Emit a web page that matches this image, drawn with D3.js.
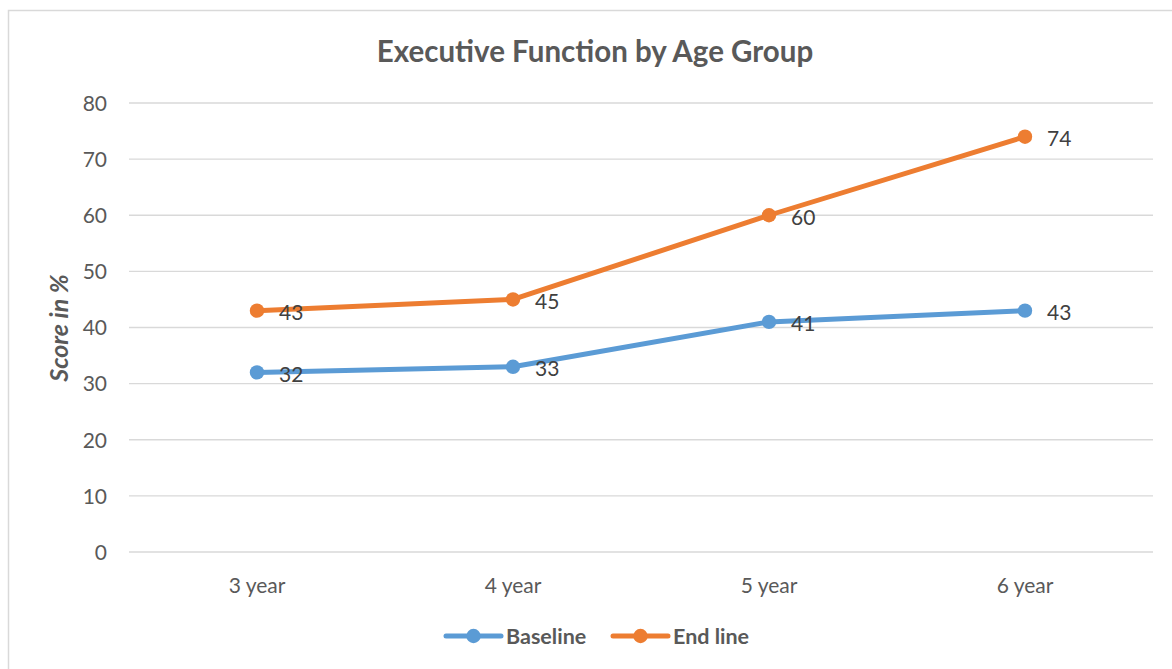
<!DOCTYPE html>
<html>
<head>
<meta charset="utf-8">
<script src="https://cdn.jsdelivr.net/npm/d3@7"></script>
<style>
  body { margin: 0; background: #fff; }
  text { font-family: Lato, "Open Sans", sans-serif; }
</style>
</head>
<body>
<div id="chart"></div>
<script>
// chart data
const categories = ["3 year", "4 year", "5 year", "6 year"]
const baseline = [32, 33, 41, 43]
const endline = [43, 45, 60, 74]
const yTicks = [0, 10, 20, 30, 40, 50, 60, 70, 80]

const series = [
    {name: "Baseline", values: baseline, color: "#5b9bd5"},
    {name: "End line", values: endline, color: "#ed7d31"},
]

const width = 1172, height = 669
const svg = d3.select("#chart")
    .append("svg")
    .attr("width", width)
    .attr("height", height)

// outer chart border
svg.append("rect")
    .attr("x", 8.5).attr("y", 10.5)
    .attr("width", width).attr("height", height)
    .attr("fill", "none")
    .attr("stroke", "#d9d9d9")
    .attr("stroke-width", 1.5)

const x = d3.scaleBand().domain(categories).range([129, 1153])
const y = d3.scaleLinear().domain([0, 80]).range([552, 103])

// gridlines
svg.append("g")
    .selectAll("line")
    .data(yTicks)
    .enter()
    .append("line")
    .attr("x1", 129).attr("x2", 1153)
    .attr("y1", d => y(d)).attr("y2", d => y(d))
    .attr("stroke", "#d9d9d9")
    .attr("stroke-width", 1.3)

// y axis labels
const yAxis = svg.append("g")
    .attr("transform", "translate(107,0)")
    .call(d3.axisLeft(y).tickValues(yTicks).tickSize(0).tickPadding(0))
yAxis.select(".domain").remove()
yAxis.selectAll("text")
    .attr("fill", "#595959")
    .style("font-size", "21px")
    .attr("dy", "0.35em")

// x axis labels
const xAxis = svg.append("g")
    .attr("transform", "translate(0,573)")
    .call(d3.axisBottom(x).tickSize(0).tickPadding(0))
xAxis.select(".domain").remove()
xAxis.selectAll("text")
    .attr("fill", "#595959")
    .style("font-size", "21px")
    .attr("dy", "0.95em")

const line = d3.line()
    .x((d, i) => x(categories[i]) + x.bandwidth() / 2)
    .y(d => y(d))

series.forEach(s => {
    svg.append("path")
        .datum(s.values)
        .attr("d", line)
        .attr("fill", "none")
        .attr("stroke", s.color)
        .attr("stroke-width", 5)
        .attr("stroke-linejoin", "round")
        .attr("stroke-linecap", "round")

    svg.append("g")
        .selectAll("circle")
        .data(s.values)
        .enter()
        .append("circle")
        .attr("cx", (d, i) => x(categories[i]) + x.bandwidth() / 2)
        .attr("cy", d => y(d))
        .attr("r", 7.2)
        .attr("fill", s.color)

    svg.append("g")
        .selectAll("text")
        .data(s.values)
        .enter()
        .append("text")
        .attr("x", (d, i) => x(categories[i]) + x.bandwidth() / 2 + 22)
        .attr("y", d => y(d) + 2)
        .attr("dy", "0.35em")
        .attr("fill", "#404040")
        .style("font-size", "21px")
        .text(d => d)
})

// title
svg.append("text")
    .attr("x", 595).attr("y", 62)
    .attr("text-anchor", "middle")
    .attr("fill", "#595959")
    .style("font-size", "29.5px")
    .style("font-weight", "bold")
    .text("Executive Function by Age Group")

// y axis title
svg.append("text")
    .attr("transform", "translate(68,328) rotate(-90)")
    .attr("text-anchor", "middle")
    .attr("fill", "#595959")
    .style("font-size", "25px")
    .style("font-weight", "bold")
    .style("font-style", "italic")
    .text("Score in %")

// legend
const legendItems = [
    {s: series[0], x: 446},
    {s: series[1], x: 613},
]
legendItems.forEach(item => {
    const g = svg.append("g").attr("transform", `translate(${item.x},636)`)
    g.append("line")
        .attr("x1", 0).attr("x2", 55)
        .attr("stroke", item.s.color)
        .attr("stroke-width", 5)
        .attr("stroke-linecap", "round")
    g.append("circle")
        .attr("cx", 27.5).attr("r", 7.2)
        .attr("fill", item.s.color)
    g.append("text")
        .attr("x", 60).attr("dy", "0.35em")
        .attr("fill", "#595959")
        .style("font-size", "21.5px")
        .style("font-weight", "bold")
        .text(item.s.name)
})
</script>
</body>
</html>
